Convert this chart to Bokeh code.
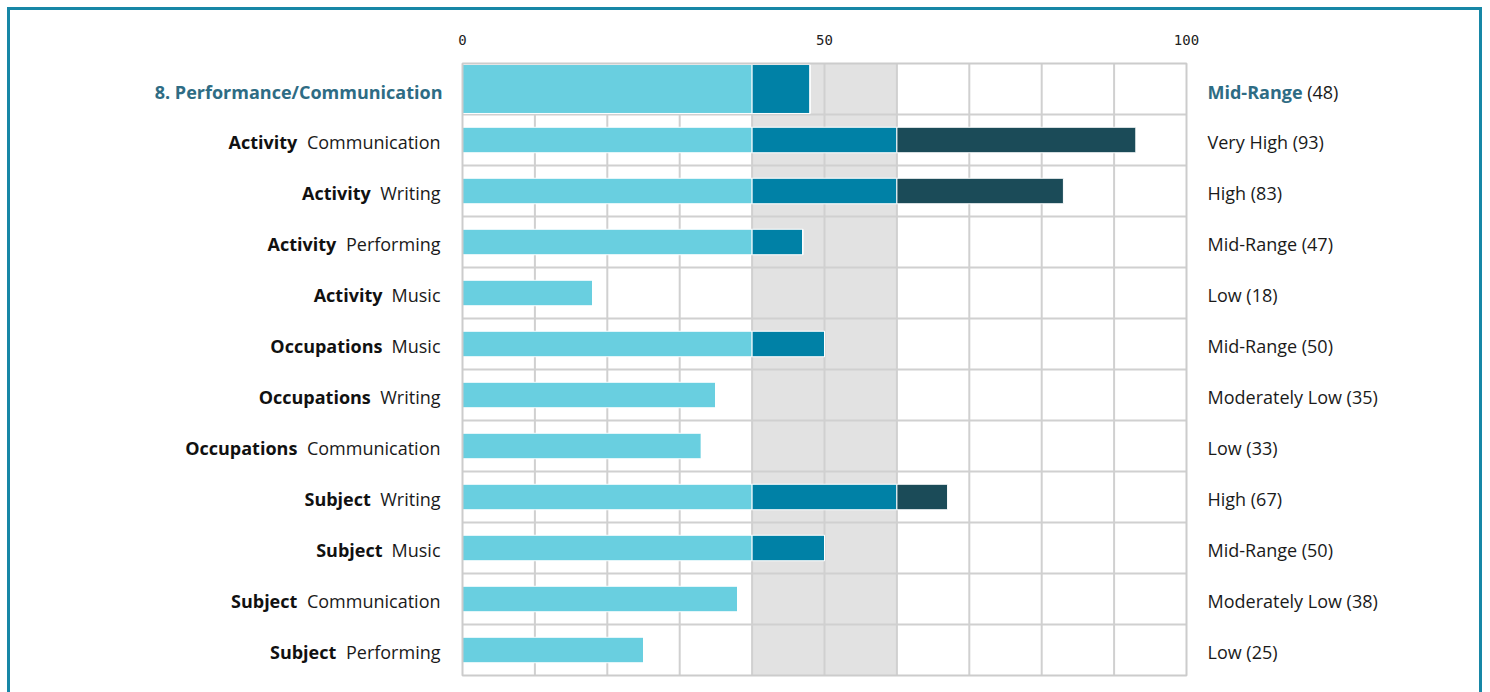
from bokeh.plotting import figure
from bokeh.models import ColumnDataSource, Range1d
from bokeh.core.properties import value
from bokeh.embed import file_html
from bokeh.resources import INLINE

# ---------------- data ----------------
header_title = "8. Performance/Communication"
header_value = 48
header_rating = "Mid-Range"

groups = ["Activity", "Activity", "Activity", "Activity",
          "Occupations", "Occupations", "Occupations",
          "Subject", "Subject", "Subject", "Subject"]
items = ["Communication", "Writing", "Performing", "Music",
         "Music", "Writing", "Communication",
         "Writing", "Music", "Communication", "Performing"]
values = [93, 83, 47, 18, 50, 35, 33, 67, 50, 38, 25]
ratings = ["Very High", "High", "Mid-Range", "Low",
           "Mid-Range", "Moderately Low", "Low",
           "High", "Mid-Range", "Moderately Low", "Low"]

axis_ticks = [0, 50, 100]
grid_ticks = [10, 20, 30, 40, 50, 60, 70, 80, 90]
band_low, band_high = 40, 60
x_min, x_max = 0, 100

# ---------------- style / layout ----------------
LIGHT = "#69cfe0"
MID = "#0081a6"
DARK = "#1b4b58"
BAND = "#e2e2e2"
GRID = "#d0d0d0"
TEAL_TXT = "#2e6c84"
FRAME = "#1787a6"
TXT = "#1a1a1a"
FONT = "Open Sans"
FS = 18

W, H = 1475, 685            # canvas size
PLOT_LEFT, PLOT_W = 452, 724  # plot area inside canvas (px)
PLOT_TOP, ROW_H = 53, 51
TEXT_DY = 2                 # text sits slightly below the row centre (px)

# approximate Open Sans advance widths (units per em = 2048)
OS_REG = {"C": 1298, "o": 1237, "m": 1905, "u": 1257, "n": 1257, "i": 518, "c": 975,
          "a": 1139, "t": 723, "W": 1890, "r": 836, "g": 1122, "P": 1237, "e": 1149,
          "f": 694, "M": 1812, "s": 977, " ": 532}
OS_BOLD = {"M": 1942, "i": 586, "d": 1264, "-": 659, "R": 1339, "a": 1174, "n": 1300,
           "g": 1141, "e": 1180, " ": 532}


def text_w(s, table, size=FS):
    return sum(table.get(ch, 1150) for ch in s) / 2048.0 * size


all_vals = [header_value] + values
n = len(all_vals)
ys = list(range(n - 1, -1, -1))
heights = [0.96] + [0.5] * len(values)
seg_a = [min(v, band_low) for v in all_vals]
seg_b = [max(0, min(v, band_high) - band_low) for v in all_vals]
seg_c = [max(0, v - band_high) for v in all_vals]

ppu = PLOT_W / (x_max - x_min)          # px per x unit
y_top, y_bot = n - 0.5, -0.5
x_start = x_min - PLOT_LEFT / ppu
x_end = x_max + (W - PLOT_LEFT - PLOT_W) / ppu
y_end = y_top + PLOT_TOP / ROW_H
y_start = y_bot - (H - PLOT_TOP - n * ROW_H) / ROW_H


def px(d):
    return d / ppu


p = figure(width=W, height=H, x_range=Range1d(x_start, x_end), y_range=Range1d(y_start, y_end),
           output_backend="svg", toolbar_location=None,
           x_axis_location=None, y_axis_location=None,
           min_border=0, min_border_left=0, min_border_right=0, min_border_top=0, min_border_bottom=0,
           background_fill_color="white", border_fill_color="white")
p.margin = (7, 0, 0, 7)
p.styles = {"border-top": "3px solid " + FRAME, "border-left": "3px solid " + FRAME,
            "border-right": "3px solid " + FRAME}
p.outline_line_color = None
p.xgrid.visible = False
p.ygrid.visible = False

# band
p.quad(left=[band_low], right=[band_high], bottom=[y_bot], top=[y_top],
       fill_color=BAND, line_color=None)
# vertical grid
p.segment(x0=grid_ticks, x1=grid_ticks, y0=[y_bot] * len(grid_ticks), y1=[y_top] * len(grid_ticks),
          line_color=GRID, line_width=2)
# horizontal grid
hlines = [i + 0.5 for i in range(n - 1)]
p.segment(x0=[x_min] * len(hlines), x1=[x_max] * len(hlines), y0=hlines, y1=hlines,
          line_color=GRID, line_width=2)

bars = ColumnDataSource(dict(y=ys, h=heights, a=seg_a, b=seg_b, c=seg_c))
p.hbar_stack(["a", "b", "c"], y="y", height="h", color=[LIGHT, MID, DARK],
             line_color="white", line_width=1, source=bars)

# plot outline
p.quad(left=[x_min], right=[x_max], bottom=[y_bot], top=[y_top],
       fill_color=None, line_color="#cccccc", line_width=2)

# top tick labels
p.text(x=axis_ticks, y=[y_top + 24 / ROW_H] * len(axis_ticks), text=[str(t) for t in axis_ticks],
       text_font=value("DejaVu Sans Mono"), text_font_size=value("14px"), text_color="#222222",
       text_align="center", text_baseline="middle")

# ---------------- row labels ----------------
dy = TEXT_DY / ROW_H
gap = 2 * text_w(" ", OS_REG)
lab = ColumnDataSource(dict(
    y=[y - dy for y in ys[1:]], item=items, group=groups,
    x_item=[x_min - px(22)] * len(values),
    x_group=[x_min - px(22 + text_w(it, OS_REG) + gap) for it in items],
    rating=[f"{r} ({v})" for r, v in zip(ratings, values)],
    x_rating=[x_max + px(21)] * len(values)))

common = dict(text_font_size=value(f"{FS}px"), text_baseline="middle", text_font=value(FONT))
p.text(x="x_item", y="y", text="item", source=lab, text_align="right", text_color=TXT, **common)
p.text(x="x_group", y="y", text="group", source=lab, text_align="right", text_color="#111111",
       text_font_style="bold", **common)
p.text(x="x_rating", y="y", text="rating", source=lab, text_align="left", text_color=TXT, **common)

# header row
hy = ys[0] - dy - 1 / ROW_H
p.text(x=[x_min - px(20)], y=[hy], text=[header_title], text_align="right",
       text_color=TEAL_TXT, text_font_style="bold", **common)
p.text(x=[x_max + px(21)], y=[hy], text=[header_rating], text_align="left",
       text_color=TEAL_TXT, text_font_style="bold", **common)
p.text(x=[x_max + px(23 + text_w(header_rating, OS_BOLD) + text_w(" ", OS_REG))], y=[hy],
       text=[f"({header_value})"], text_align="left", text_color=TXT, **common)

open("out.html", "w").write(file_html(p, INLINE))
